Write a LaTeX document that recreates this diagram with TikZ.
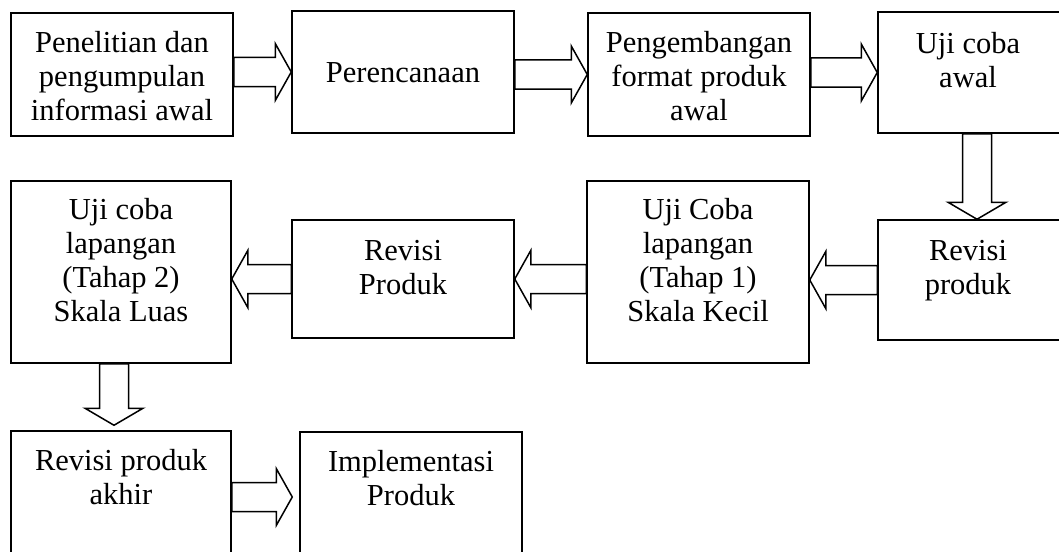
\documentclass[tikz,border=0pt]{standalone}
\usepackage{fontspec}
\setmainfont{Liberation Serif}
\usetikzlibrary{calc}

\tikzset{
  box/.style={draw, line width=1.5pt, inner sep=0pt},
  txt/.style={anchor=north, align=center, inner sep=0pt, font=\fontsize{30.5}{34}\selectfont},
  blk/.style={draw, line width=1.5pt, line join=miter, fill=white},
}

% hollow block arrow, left or right
\newcommand{\hblock}[2]{%
  \draw[blk] let \p1=(#1), \p2=(#2), \n1={(\x2-\x1)/abs(\x2-\x1)} in
    (\x2,\y2) -- ({\x2-\n1*16pt},{\y2+28.5pt}) -- ({\x2-\n1*16pt},{\y2+14.5pt})
    -- (\x1,{\y2+14.5pt}) -- (\x1,{\y2-14.5pt}) -- ({\x2-\n1*16pt},{\y2-14.5pt})
    -- ({\x2-\n1*16pt},{\y2-28.5pt}) -- cycle;}

% hollow block arrow, down
\newcommand{\vblock}[2]{%
  \draw[blk] let \p1=(#1), \p2=(#2), \n1={(\y2-\y1)/abs(\y2-\y1)} in
    (\x2,\y2) -- ({\x2+29pt},{\y2-\n1*17pt}) -- ({\x2+14.5pt},{\y2-\n1*17pt})
    -- ({\x2+14.5pt},\y1) -- ({\x2-14.5pt},\y1) -- ({\x2-14.5pt},{\y2-\n1*17pt})
    -- ({\x2-29pt},{\y2-\n1*17pt}) -- cycle;}

\begin{document}
\begin{tikzpicture}[x=1pt,y=-1pt]
  \useasboundingbox (0,0) rectangle (1059,551);

  % First row (last box runs past the right edge)
  \node[box, minimum width=222pt, minimum height=123pt] (a) at (122,74.5) {};
  \node[box, minimum width=222pt, minimum height=122pt] (b) at (403,72) {};
  \node[box, minimum width=222pt, minimum height=123pt] (c) at (699,74.5) {};
  \node[box, minimum width=200pt, minimum height=121pt] (d) at (978,72.5) {};

  % Second row
  \node[box, minimum width=220pt, minimum height=182pt] (e) at (121,272) {};
  \node[box, minimum width=222pt, minimum height=118pt] (f) at (403,279) {};
  \node[box, minimum width=222pt, minimum height=182pt] (g) at (698,272) {};
  \node[box, minimum width=200pt, minimum height=120pt] (h) at (978,280) {};

  % Third row (cut at the bottom edge)
  \node[box, minimum width=220pt, minimum height=130pt] (i) at (121,496) {};
  \node[box, minimum width=222pt, minimum height=130pt] (j) at (411,497) {};

  % Texts
  \node[txt] (ta) at ([yshift=-19pt]a.north) {Penelitian dan\\pengumpulan\\informasi awal};
  \node[txt] (tb) at ([yshift=-52pt]b.north) {Perencanaan};
  \node[txt] (tc) at ([yshift=-19pt]c.north) {Pengembangan\\format produk\\awal};
  \node[txt] (td) at ([xshift=-10pt,yshift=-21pt]d.north) {Uji coba\\awal};
  \node[txt] (te) at ([yshift=-18pt]e.north) {Uji coba\\lapangan\\(Tahap 2)\\Skala Luas};
  \node[txt] (tf) at ([yshift=-21pt]f.north) {Revisi\\Produk};
  \node[txt] (tg) at ([yshift=-18pt]g.north) {Uji Coba\\lapangan\\(Tahap 1)\\Skala Kecil};
  \node[txt] (th) at ([xshift=-10pt,yshift=-21pt]h.north) {Revisi\\produk};
  \node[txt] (ti) at ([yshift=-19pt]i.north) {Revisi produk\\akhir};
  \node[txt] (tj) at ([yshift=-19pt]j.north) {Implementasi\\Produk};

  % Block arrows
  \hblock{a.east}{b.west}
  \hblock{b.east}{c.west}
  \hblock{c.east}{d.west}
  \vblock{d.south}{[xshift=-1pt]h.north}
  \hblock{h.west}{g.east |- h.west}
  \hblock{g.west}{f.east}
  \hblock{f.west}{e.east |- f.west}
  \vblock{e.south}{[xshift=-7pt,yshift=5pt]i.north}
  \hblock{i.east}{[xshift=-7pt]j.west}
\end{tikzpicture}
\end{document}
